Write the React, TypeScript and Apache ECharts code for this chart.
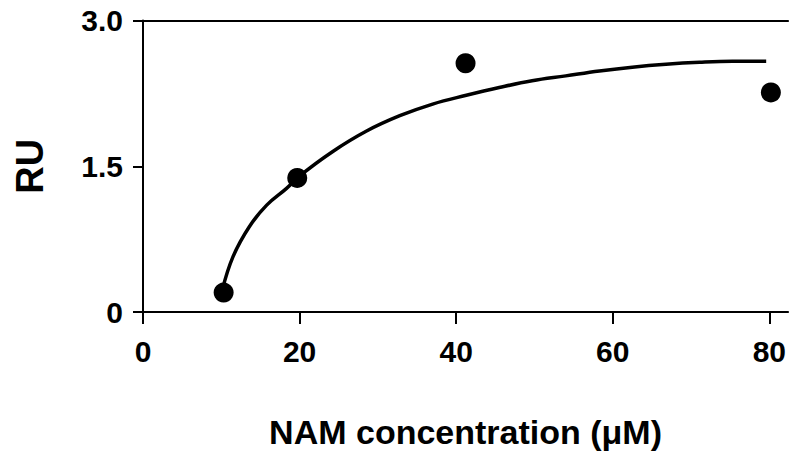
import React, { useEffect, useRef } from "react";
import * as echarts from "echarts";

const xTicks = [0, 20, 40, 60, 80];
const yTicks = [0, 1.5, 3.0];
const measuredX = [10.3, 19.7, 41.2, 80.2];
const measuredY = [0.2, 1.38, 2.56, 2.26];
const fitX = [10.1, 11.5, 13.6, 15.8, 18.3, 20.0, 24.2, 28.5, 32.8, 37.0, 41.3, 45.5, 49.7, 54.0, 58.3, 62.5, 66.8, 71.1, 75.3, 79.6];
const fitY = [0.22, 0.57, 0.88, 1.1, 1.27, 1.4, 1.65, 1.86, 2.02, 2.14, 2.23, 2.31, 2.38, 2.43, 2.48, 2.52, 2.55, 2.57, 2.58, 2.58];
const xName = "NAM concentration (μM)";
const yName = "RU";

const FONT = "'Liberation Sans', Arial, sans-serif";

export default function App() {
  const ref = useRef<HTMLDivElement>(null);
  useEffect(() => {
    if (!ref.current) return;
    const chart = echarts.init(ref.current, null, { renderer: "svg" });
    const xMax = 82.4;
    chart.setOption({
      animation: false,
      backgroundColor: "#ffffff",
      grid: { left: 143, right: 0, top: 20.5, height: 296.2, containLabel: false },
      xAxis: [
        {
          type: "value",
          min: 0,
          max: xMax,
          interval: 20,
          position: "bottom",
          name: xName,
          nameLocation: "middle",
          nameGap: 103,
          nameTextStyle: { fontFamily: FONT, fontWeight: "bold", fontSize: 34, color: "#000" },
          axisLine: { show: true, onZero: false, lineStyle: { color: "#000", width: 2 } },
          axisTick: { show: true, length: 12, customValues: xTicks, lineStyle: { color: "#000", width: 2 } },
          axisLabel: {
            customValues: xTicks,
            margin: 24,
            fontFamily: FONT,
            fontWeight: "bold",
            fontSize: 30,
            color: "#000",
          },
          splitLine: { show: false },
        },
        {
          type: "value",
          min: 0,
          max: xMax,
          position: "top",
          axisLine: { show: true, onZero: false, lineStyle: { color: "#000", width: 2 } },
          axisTick: { show: false },
          axisLabel: { show: false },
          splitLine: { show: false },
        },
      ],
      yAxis: {
        type: "value",
        min: 0,
        max: 3,
        interval: 1.5,
        name: yName,
        nameLocation: "middle",
        nameGap: 94,
        nameRotate: 90,
        nameTextStyle: { fontFamily: FONT, fontWeight: "bold", fontSize: 38, color: "#000" },
        axisLine: { show: true, onZero: false, lineStyle: { color: "#000", width: 2 } },
        axisTick: { show: true, length: 10, lineStyle: { color: "#000", width: 2 } },
        axisLabel: {
          margin: 20,
          fontFamily: FONT,
          fontWeight: "bold",
          fontSize: 30,
          color: "#000",
          formatter: (v: number) => (v === 0 ? "0" : v.toFixed(1)),
          customValues: yTicks,
        },
        splitLine: { show: false },
      },
      series: [
        {
          type: "line",
          xAxisIndex: 0,
          data: fitX.map((x, i) => [x, fitY[i]]),
          smooth: 0.4,
          showSymbol: false,
          symbol: "none",
          lineStyle: { color: "#000", width: 3.5 },
          z: 2,
        },
        {
          type: "scatter",
          xAxisIndex: 0,
          data: measuredX.map((x, i) => [x, measuredY[i]]),
          symbol: "circle",
          symbolSize: 20,
          itemStyle: { color: "#000", opacity: 1 },
          z: 3,
        },
      ],
    });
    return () => chart.dispose();
  }, []);
  return (
    <div
      ref={ref}
      style={{ position: "fixed", left: 0, top: 0, width: 789, height: 454, background: "#fff" }}
    />
  );
}
